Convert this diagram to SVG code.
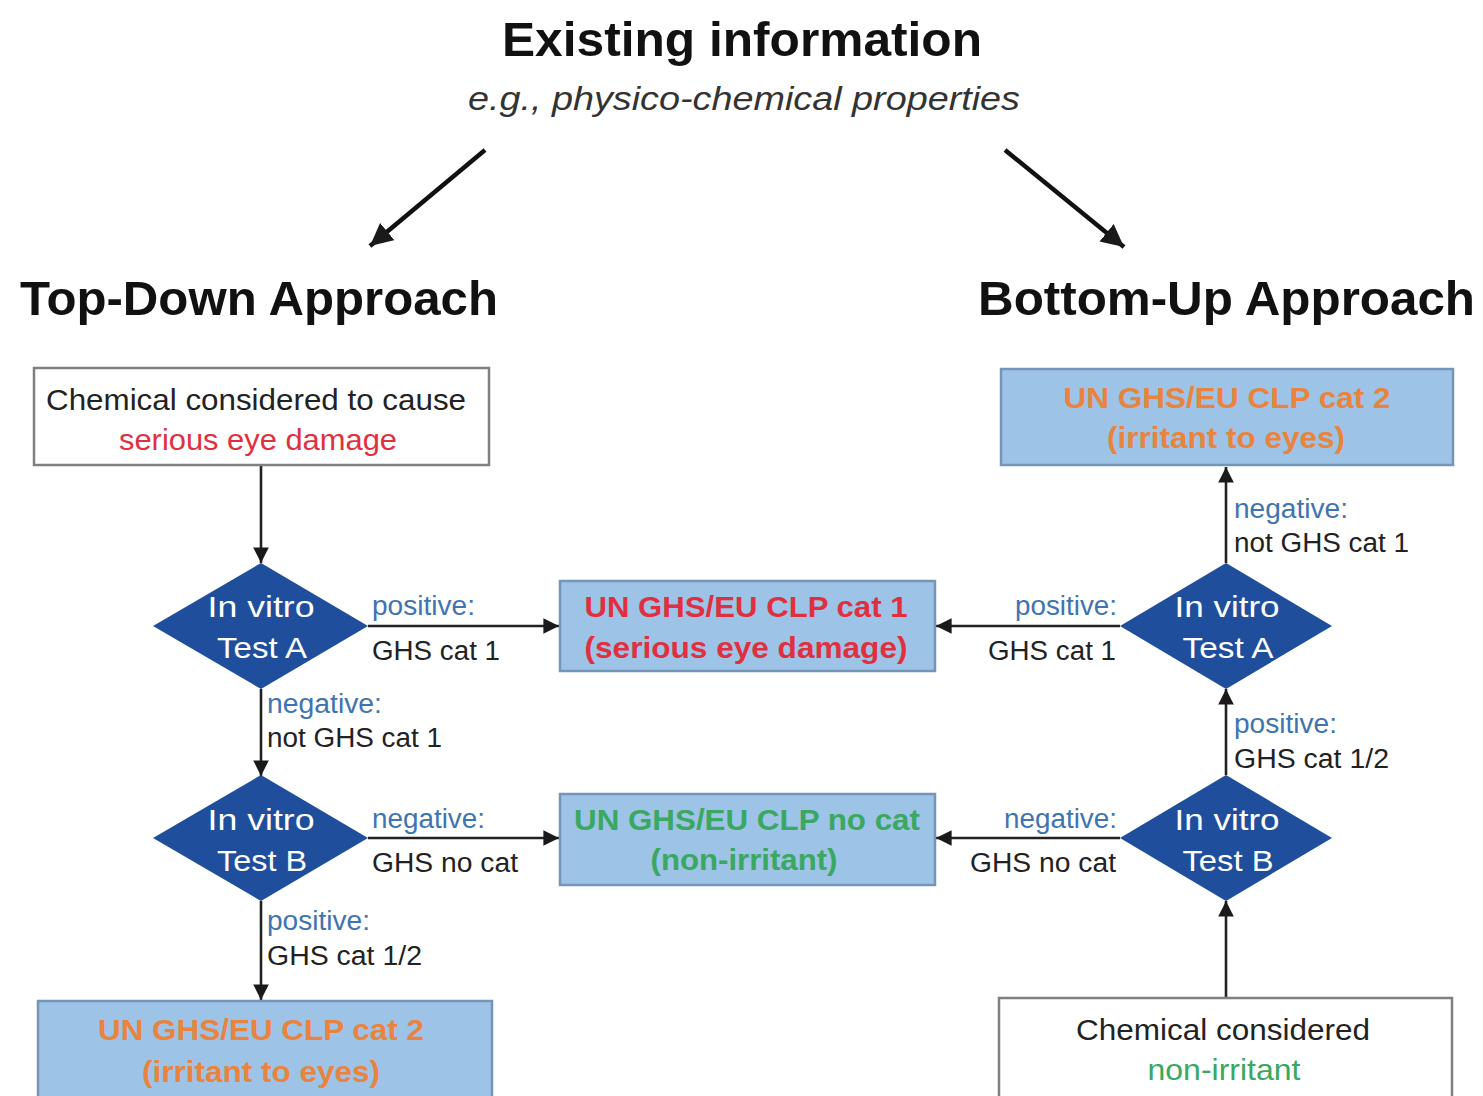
<svg xmlns="http://www.w3.org/2000/svg" width="1483" height="1096" viewBox="0 0 1483 1096">
<defs>
<marker id="ah" viewBox="0 0 10 10" refX="10" refY="5" markerWidth="6" markerHeight="6" orient="auto" markerUnits="strokeWidth">
<path d="M0,0 L10,5 L0,10 z" fill="#1a1a1a"/>
</marker>
<marker id="ah2" viewBox="0 0 10 10" refX="10" refY="5" markerWidth="5" markerHeight="5" orient="auto" markerUnits="strokeWidth">
<path d="M0,0 L10,5 L0,10 z" fill="#1a1a1a"/>
</marker>
</defs>
<style>
text{font-family:"Liberation Sans",Arial,sans-serif}
.conn{stroke:#222;stroke-width:2.6;fill:none;marker-end:url(#ah)}
.diag{stroke:#111;stroke-width:4.5;fill:none;marker-end:url(#ah2)}
.wbox{fill:#fff;stroke:#808080;stroke-width:2.5}
.bbox{fill:#9dc3e6;stroke:#7595b8;stroke-width:2.5}
.dia{fill:#1f4f9c}
.dt{fill:#fff;font-size:30px;text-anchor:middle}
.lb{fill:#3f74b0;font-size:27px}
.lk{fill:#222;font-size:27px}
.bt{font-size:29px;font-weight:bold;text-anchor:middle}
.nt{fill:#222;font-size:29px;text-anchor:middle}
.red{fill:#e03040}
.org{fill:#e8843e}
.grn{fill:#3aa860}
.head{fill:#111;font-weight:bold;font-size:48px}
</style>
<rect width="1483" height="1096" fill="#fff"/>

<g id="title">
<text x="742" y="56" class="head" text-anchor="middle" textLength="480" lengthAdjust="spacingAndGlyphs">Existing information</text>
<text x="744" y="110" fill="#333" font-size="33" font-style="italic" text-anchor="middle" textLength="552" lengthAdjust="spacingAndGlyphs">e.g., physico-chemical properties</text>
</g>
<g id="topdown-title"><text x="20" y="315" class="head" textLength="478" lengthAdjust="spacingAndGlyphs">Top-Down Approach</text></g>
<g id="bottomup-title"><text x="978" y="315" class="head" textLength="497" lengthAdjust="spacingAndGlyphs">Bottom-Up Approach</text></g>

<g id="connectors">
<line class="diag" x1="485" y1="150" x2="370" y2="246"/>
<line class="diag" x1="1005" y1="150" x2="1124" y2="247"/>
<line class="conn" x1="261" y1="466" x2="261" y2="563"/>
<line class="conn" x1="368" y1="626" x2="559" y2="626"/>
<line class="conn" x1="261" y1="689" x2="261" y2="776"/>
<line class="conn" x1="368" y1="838" x2="559" y2="838"/>
<line class="conn" x1="261" y1="901" x2="261" y2="1000"/>
<line class="conn" x1="1120" y1="626" x2="936" y2="626"/>
<line class="conn" x1="1120" y1="838" x2="936" y2="838"/>
<line class="conn" x1="1226" y1="563" x2="1226" y2="467"/>
<line class="conn" x1="1226" y1="775" x2="1226" y2="689"/>
<line class="conn" x1="1226" y1="998" x2="1226" y2="901"/>
</g>

<g id="labels">
<text x="372" y="615" class="lb" textLength="103" lengthAdjust="spacingAndGlyphs">positive:</text>
<text x="372" y="660" class="lk" textLength="128" lengthAdjust="spacingAndGlyphs">GHS cat 1</text>
<text x="267" y="713" class="lb" textLength="115" lengthAdjust="spacingAndGlyphs">negative:</text>
<text x="267" y="747" class="lk" textLength="175" lengthAdjust="spacingAndGlyphs">not GHS cat 1</text>
<text x="372" y="828" class="lb" textLength="113" lengthAdjust="spacingAndGlyphs">negative:</text>
<text x="372" y="872" class="lk" textLength="146" lengthAdjust="spacingAndGlyphs">GHS no cat</text>
<text x="267" y="930" class="lb" textLength="103" lengthAdjust="spacingAndGlyphs">positive:</text>
<text x="267" y="965" class="lk" textLength="155" lengthAdjust="spacingAndGlyphs">GHS cat 1/2</text>
<text x="1015" y="615" class="lb" textLength="102" lengthAdjust="spacingAndGlyphs">positive:</text>
<text x="988" y="660" class="lk" textLength="128" lengthAdjust="spacingAndGlyphs">GHS cat 1</text>
<text x="1234" y="518" class="lb" textLength="114" lengthAdjust="spacingAndGlyphs">negative:</text>
<text x="1234" y="552" class="lk" textLength="175" lengthAdjust="spacingAndGlyphs">not GHS cat 1</text>
<text x="1004" y="828" class="lb" textLength="113" lengthAdjust="spacingAndGlyphs">negative:</text>
<text x="970" y="872" class="lk" textLength="146" lengthAdjust="spacingAndGlyphs">GHS no cat</text>
<text x="1234" y="733" class="lb" textLength="103" lengthAdjust="spacingAndGlyphs">positive:</text>
<text x="1234" y="768" class="lk" textLength="155" lengthAdjust="spacingAndGlyphs">GHS cat 1/2</text>
</g>

<g id="td-start">
<rect class="wbox" x="34" y="368" width="455" height="97"/>
<text x="256" y="410" class="nt" textLength="420" lengthAdjust="spacingAndGlyphs">Chemical considered to cause</text>
<text x="258" y="450" class="nt red" textLength="278" lengthAdjust="spacingAndGlyphs">serious eye damage</text>
</g>

<g id="td-testA">
<polygon class="dia" points="261,563 368,626 261,689 153,626"/>
<text x="261" y="617" class="dt" textLength="107" lengthAdjust="spacingAndGlyphs">In vitro</text>
<text x="262" y="658" class="dt" textLength="90" lengthAdjust="spacingAndGlyphs">Test A</text>
</g>

<g id="td-testB">
<polygon class="dia" points="261,775 368,838 261,901 153,838"/>
<text x="261" y="830" class="dt" textLength="107" lengthAdjust="spacingAndGlyphs">In vitro</text>
<text x="262" y="871" class="dt" textLength="90" lengthAdjust="spacingAndGlyphs">Test B</text>
</g>

<g id="td-cat2">
<rect class="bbox" x="38" y="1001" width="454" height="100"/>
<text x="261" y="1040" class="bt org" textLength="326" lengthAdjust="spacingAndGlyphs">UN GHS/EU CLP cat 2</text>
<text x="261" y="1082" class="bt org" textLength="238" lengthAdjust="spacingAndGlyphs">(irritant to eyes)</text>
</g>

<g id="cat1">
<rect class="bbox" x="560" y="581" width="375" height="90"/>
<text x="746" y="617" class="bt red" textLength="323" lengthAdjust="spacingAndGlyphs">UN GHS/EU CLP cat 1</text>
<text x="746" y="658" class="bt red" textLength="323" lengthAdjust="spacingAndGlyphs">(serious eye damage)</text>
</g>

<g id="nocat">
<rect class="bbox" x="560" y="794" width="375" height="91"/>
<text x="747" y="830" class="bt grn" textLength="346" lengthAdjust="spacingAndGlyphs">UN GHS/EU CLP no cat</text>
<text x="744" y="870" class="bt grn" textLength="187" lengthAdjust="spacingAndGlyphs">(non-irritant)</text>
</g>

<g id="bu-cat2">
<rect class="bbox" x="1001" y="369" width="452" height="96"/>
<text x="1227" y="408" class="bt org" textLength="327" lengthAdjust="spacingAndGlyphs">UN GHS/EU CLP cat 2</text>
<text x="1226" y="448" class="bt org" textLength="238" lengthAdjust="spacingAndGlyphs">(irritant to eyes)</text>
</g>

<g id="bu-testA">
<polygon class="dia" points="1226,563 1332,626 1226,689 1120,626"/>
<text x="1227" y="617" class="dt" textLength="105" lengthAdjust="spacingAndGlyphs">In vitro</text>
<text x="1228" y="658" class="dt" textLength="91" lengthAdjust="spacingAndGlyphs">Test A</text>
</g>

<g id="bu-testB">
<polygon class="dia" points="1226,775 1332,838 1226,901 1120,838"/>
<text x="1227" y="830" class="dt" textLength="105" lengthAdjust="spacingAndGlyphs">In vitro</text>
<text x="1228" y="871" class="dt" textLength="91" lengthAdjust="spacingAndGlyphs">Test B</text>
</g>

<g id="bu-start">
<rect class="wbox" x="999" y="998" width="453" height="103"/>
<text x="1223" y="1040" class="nt" textLength="294" lengthAdjust="spacingAndGlyphs">Chemical considered</text>
<text x="1224" y="1080" class="nt grn" textLength="153" lengthAdjust="spacingAndGlyphs">non-irritant</text>
</g>
</svg>
